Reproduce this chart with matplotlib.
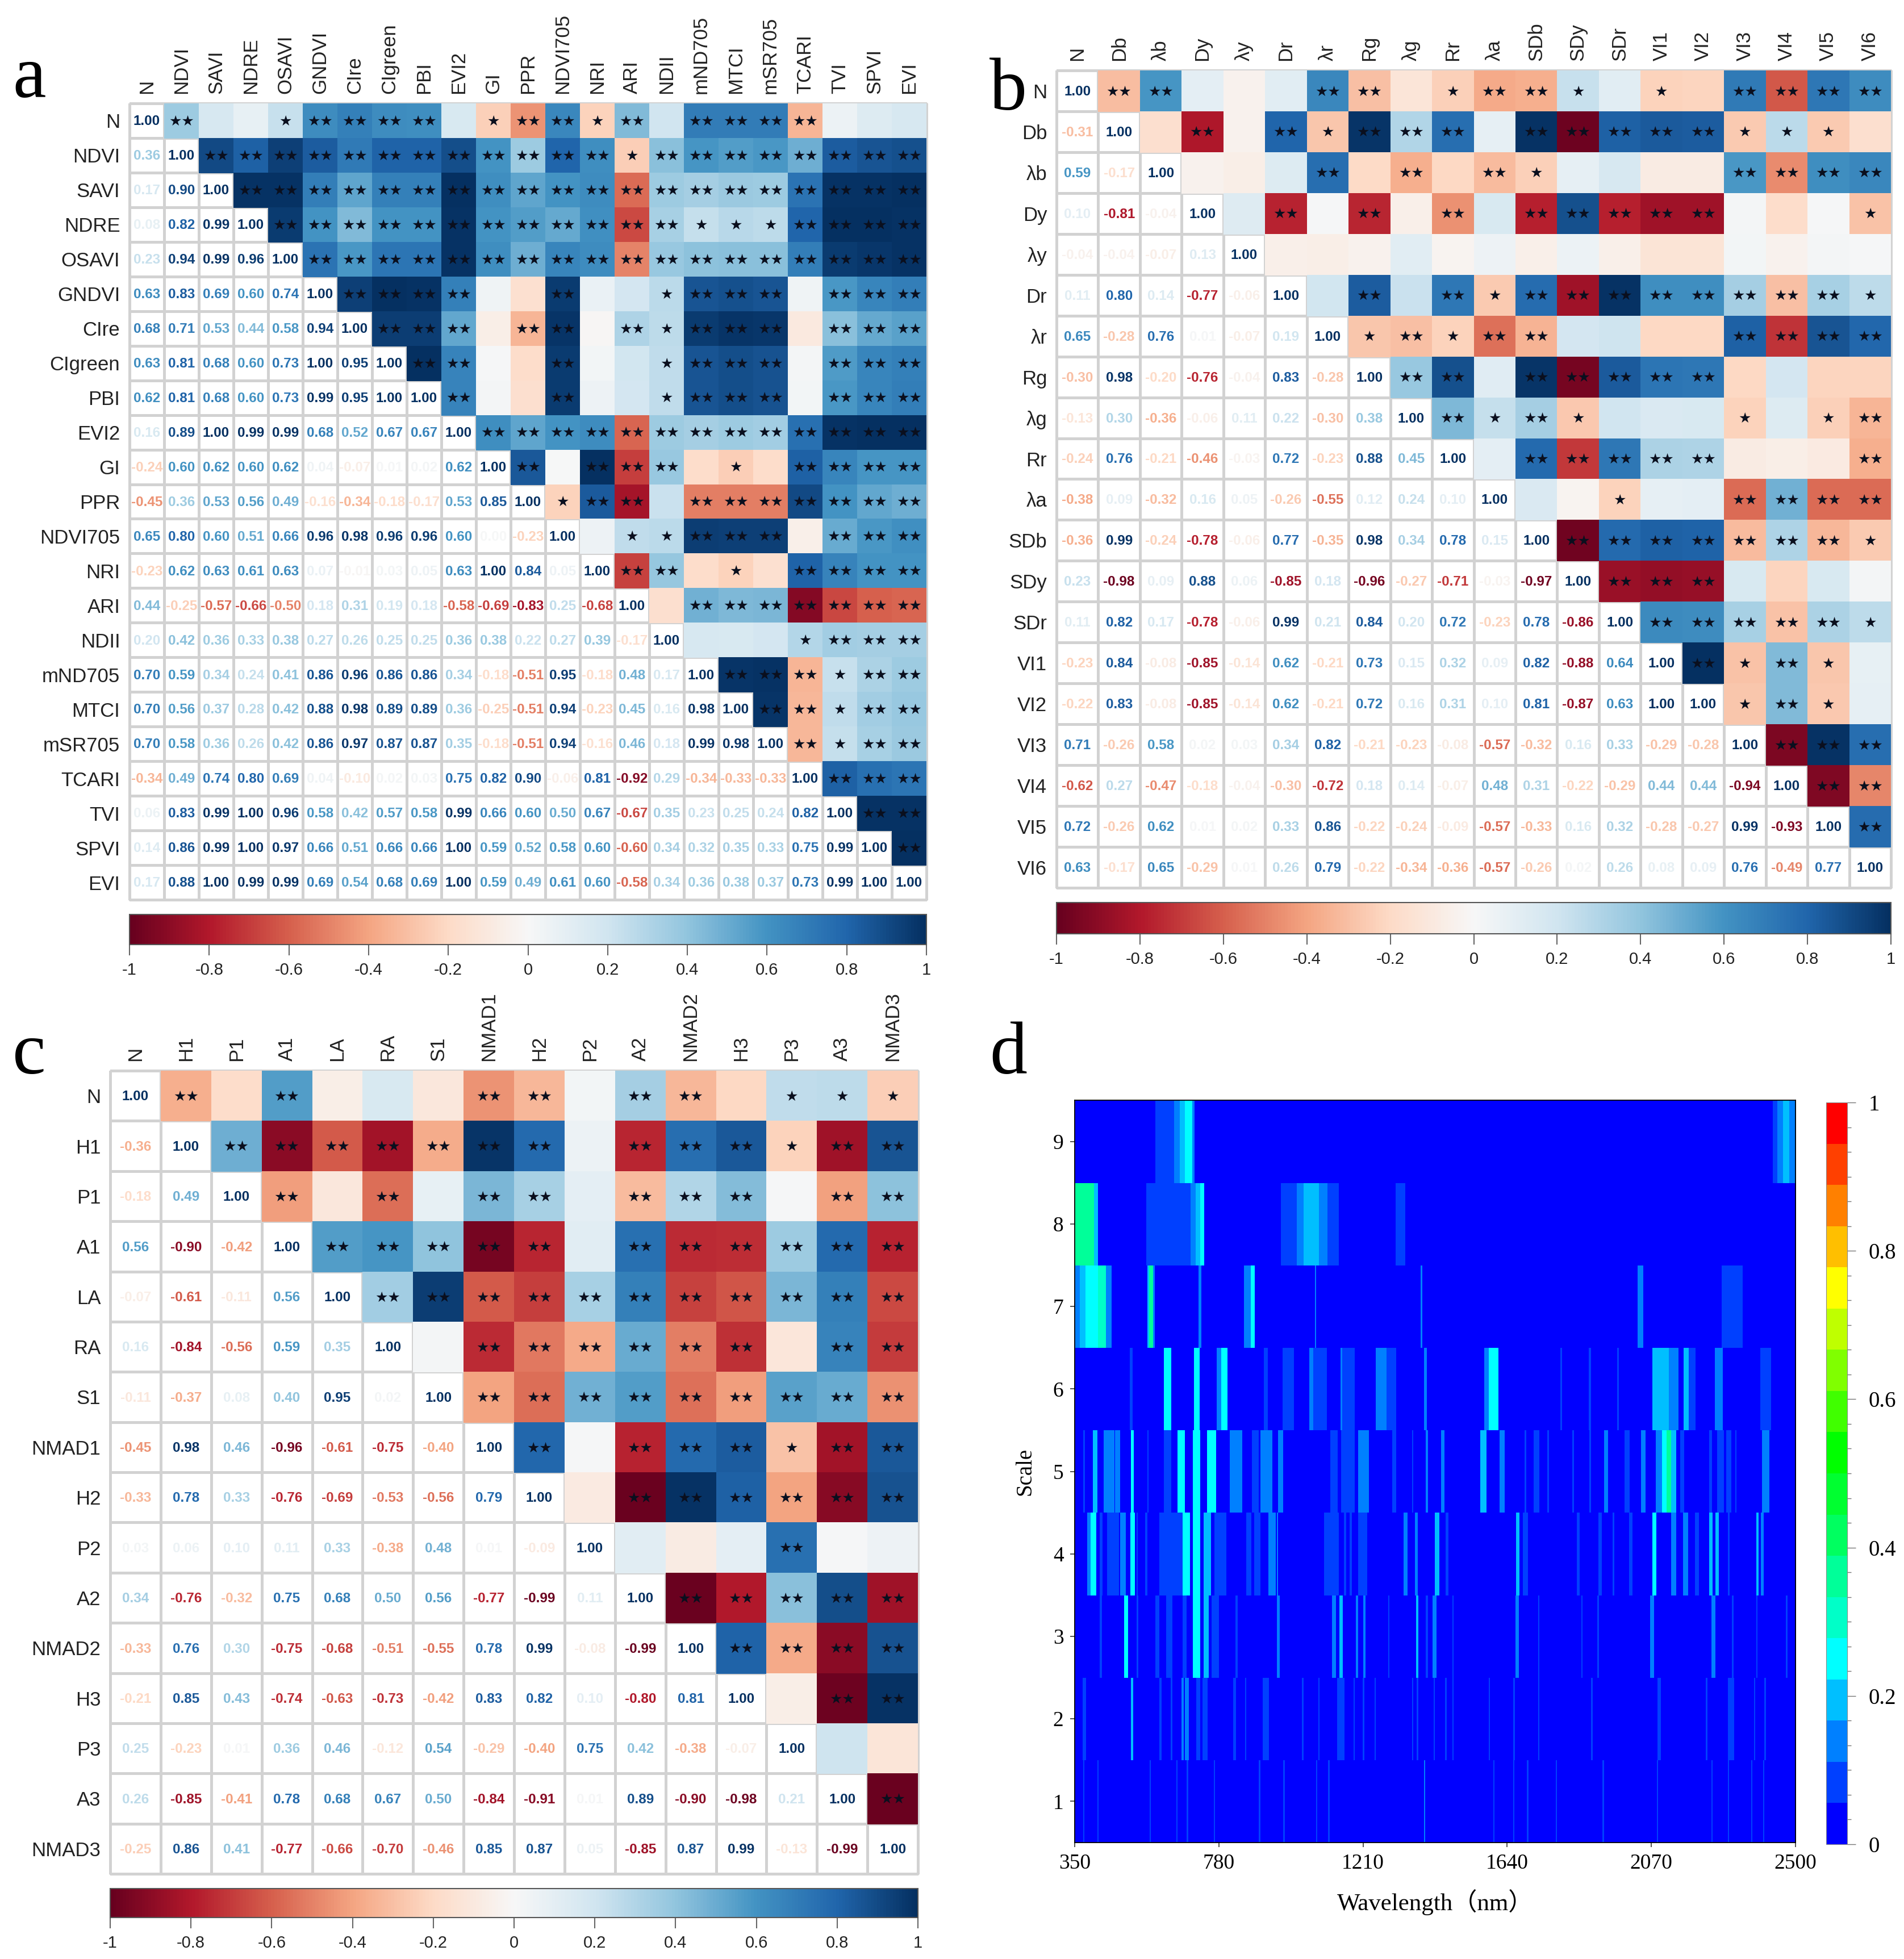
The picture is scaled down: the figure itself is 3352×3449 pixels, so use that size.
# -*- coding: utf-8 -*-
# correlation matrices (a-c) and scale/wavelength importance map (d)

import numpy as np
import matplotlib
matplotlib.use('Agg')
import matplotlib.pyplot as plt
from matplotlib.cm import ScalarMappable
from matplotlib.colors import BoundaryNorm, ListedColormap, Normalize

W, H = 3352, 3449

names_a = ['N', 'NDVI', 'SAVI', 'NDRE', 'OSAVI', 'GNDVI', 'CIre', 'CIgreen', 'PBI', 'EVI2', 'GI', 'PPR',
           'NDVI705', 'NRI', 'ARI', 'NDII', 'mND705', 'MTCI', 'mSR705', 'TCARI', 'TVI', 'SPVI', 'EVI']
lower_a = [
    [],
    [.36],
    [.17, .90],
    [.08, .82, .99],
    [.23, .94, .99, .96],
    [.63, .83, .69, .60, .74],
    [.68, .71, .53, .44, .58, .94],
    [.63, .81, .68, .60, .73, 1.00, .95],
    [.62, .81, .68, .60, .73, .99, .95, 1.00],
    [.16, .89, 1.00, .99, .99, .68, .52, .67, .67],
    [-.24, .60, .62, .60, .62, .04, -.07, .01, .02, .62],
    [-.45, .36, .53, .56, .49, -.16, -.34, -.18, -.17, .53, .85],
    [.65, .80, .60, .51, .66, .96, .98, .96, .96, .60, .00, -.23],
    [-.23, .62, .63, .61, .63, .07, -.01, .03, .05, .63, 1.00, .84, .05],
    [.44, -.25, -.57, -.66, -.50, .18, .31, .19, .18, -.58, -.69, -.83, .25, -.68],
    [.20, .42, .36, .33, .38, .27, .26, .25, .25, .36, .38, .22, .27, .39, -.17],
    [.70, .59, .34, .24, .41, .86, .96, .86, .86, .34, -.18, -.51, .95, -.18, .48, .17],
    [.70, .56, .37, .28, .42, .88, .98, .89, .89, .36, -.25, -.51, .94, -.23, .45, .16, .98],
    [.70, .58, .36, .26, .42, .86, .97, .87, .87, .35, -.18, -.51, .94, -.16, .46, .18, .99, .98],
    [-.34, .49, .74, .80, .69, .04, -.10, .02, .03, .75, .82, .90, -.06, .81, -.92, .29, -.34, -.33, -.33],
    [.06, .83, .99, 1.00, .96, .58, .42, .57, .58, .99, .66, .60, .50, .67, -.67, .35, .23, .25, .24, .82],
    [.14, .86, .99, 1.00, .97, .66, .51, .66, .66, 1.00, .59, .52, .58, .60, -.60, .34, .32, .35, .33, .75, .99],
    [.17, .88, 1.00, .99, .99, .69, .54, .68, .69, 1.00, .59, .49, .61, .60, -.58, .34, .36, .38, .37, .73, .99, 1.00],
]
# number of stars in the upper triangle, row by row
stars_a = ['2001222201221202222000', '222222222222122222222', '22222222222222222222',
           '2222222222221112222', '222222222222222222', '22220020012220222', '2220220212220222',
           '220020012220222', '20020012220222', '2222222222222', '202220102222', '12202222222',
           '0112220222', '220102222', '02222222', '0001222', '222122', '22122', '2122', '222', '22', '2', '']

names_b = ['N', 'Db', 'λb', 'Dy', 'λy', 'Dr', 'λr', 'Rg', 'λg', 'Rr', 'λa', 'SDb', 'SDy', 'SDr',
           'VI1', 'VI2', 'VI3', 'VI4', 'VI5', 'VI6']
lower_b = [
    [],
    [-.31],
    [.59, -.17],
    [.10, -.81, -.04],
    [-.04, -.04, -.07, .13],
    [.11, .80, .14, -.77, -.06],
    [.65, -.28, .76, .01, -.07, .19],
    [-.30, .98, -.20, -.76, -.04, .83, -.28],
    [-.13, .30, -.36, -.06, .11, .22, -.30, .38],
    [-.24, .76, -.21, -.46, -.03, .72, -.23, .88, .45],
    [-.38, .09, -.32, .16, .05, -.26, -.55, .12, .24, .10],
    [-.36, .99, -.24, -.78, -.06, .77, -.35, .98, .34, .78, .15],
    [.23, -.98, .09, .88, .06, -.85, .18, -.96, -.27, -.71, -.03, -.97],
    [.11, .82, .17, -.78, -.06, .99, .21, .84, .20, .72, -.23, .78, -.86],
    [-.23, .84, -.08, -.85, -.14, .62, -.21, .73, .15, .32, .09, .82, -.88, .64],
    [-.22, .83, -.08, -.85, -.14, .62, -.21, .72, .16, .31, .10, .81, -.87, .63, 1.00],
    [.71, -.26, .58, .02, .03, .34, .82, -.21, -.23, -.08, -.57, -.32, .16, .33, -.29, -.28],
    [-.62, .27, -.47, -.18, -.04, -.30, -.72, .18, .14, -.07, .48, .31, -.22, -.29, .44, .44, -.94],
    [.72, -.26, .62, .01, .02, .33, .86, -.22, -.24, -.09, -.57, -.33, .16, .32, -.28, -.27, .99, -.93],
    [.63, -.17, .65, -.29, .01, .26, .79, -.22, -.34, -.36, -.57, -.26, .02, .26, .08, .09, .76, -.49, .77],
]
stars_b = ['2200022012210102222', '020212220222221110', '00020202100002222', '0202020222220001',
           '000000000000000', '02021222222221', '1212200002222', '220222220000', '21210001012',
           '0222220002', '001002222', '22222221', '2220000', '222221', '21210', '1210', '222', '22', '2', '']

names_c = ['N', 'H1', 'P1', 'A1', 'LA', 'RA', 'S1', 'NMAD1', 'H2', 'P2', 'A2', 'NMAD2', 'H3', 'P3', 'A3', 'NMAD3']
lower_c = [
    [],
    [-.36],
    [-.18, .49],
    [.56, -.90, -.42],
    [-.07, -.61, -.11, .56],
    [.16, -.84, -.56, .59, .35],
    [-.11, -.37, .08, .40, .95, .02],
    [-.45, .98, .46, -.96, -.61, -.75, -.40],
    [-.33, .78, .33, -.76, -.69, -.53, -.56, .79],
    [.03, .06, .10, .11, .33, -.38, .48, .01, -.09],
    [.34, -.76, -.32, .75, .68, .50, .56, -.77, -.99, .11],
    [-.33, .76, .30, -.75, -.68, -.51, -.55, .78, .99, -.08, -.99],
    [-.21, .85, .43, -.74, -.63, -.73, -.42, .83, .82, .10, -.80, .81],
    [.25, -.23, .01, .36, .46, -.12, .54, -.29, -.40, .75, .42, -.38, -.07],
    [.26, -.85, -.41, .78, .68, .67, .50, -.84, -.91, .01, .89, -.90, -.98, .21],
    [-.25, .86, .41, -.77, -.66, -.70, -.46, .85, .87, .05, -.85, .87, .99, -.13, -.99],
]
stars_c = ['202000220220111', '22222220222122', '2020220222022', '222220222222', '22222222222',
           '0222222022', '222222222', '20222122', '0222222', '000200', '22222', '2222', '022', '00', '2', '']

cbar_ticks = [-1, -0.8, -0.6, -0.4, -0.2, 0, 0.2, 0.4, 0.6, 0.8, 1]
cbar_labels = ['-1', '-0.8', '-0.6', '-0.4', '-0.2', '0', '0.2', '0.4', '0.6', '0.8', '1']

# panel d: (start nm, end nm, weight) stripes for each scale, background is 0
scale_labels = [1, 2, 3, 4, 5, 6, 7, 8, 9]
wave_ticks = [350, 780, 1210, 1640, 2070, 2500]
stripes_9 = [(591, 647, .08), (647, 664, .14), (664, 678, .19), (678, 700, .25), (700, 707, .14),
             (2431, 2445, .08), (2445, 2462, .14), (2462, 2480, .19), (2480, 2500, .14)]
stripes_8 = [(350, 408, .36), (408, 419, .19), (563, 696, .08), (696, 710, .14), (710, 724, .19), (724, 735, .25),
             (965, 1012, .08), (1012, 1033, .14), (1033, 1078, .19), (1078, 1103, .14), (1103, 1136, .08),
             (1307, 1335, .08)]
stripes_7 = [(350, 366, .14), (366, 383, .19), (383, 420, .25), (420, 443, .31), (443, 459, .14),
             (567, 572, .19), (572, 584, .36), (584, 588, .14), (720, 726, .14), (855, 875, .14), (875, 886, .25),
             (1066, 1069, .14), (1381, 1385, .14), (2029, 2045, .14), (2279, 2340, .08)]
stripes_6 = [(514, 521, .08), (616, 637, .25), (706, 722, .25), (773, 787, .14), (787, 804, .25), (914, 925, .08),
             (970, 1003, .08), (1050, 1062, .14), (1062, 1101, .08), (1142, 1147, .14), (1147, 1184, .08),
             (1248, 1279, .14), (1279, 1307, .08), (1392, 1399, .14), (1571, 1585, .14), (1585, 1612, .25),
             (1798, 1803, .08), (1883, 1888, .08), (1967, 1972, .08), (2073, 2122, .19), (2122, 2150, .14),
             (2166, 2181, .19), (2181, 2201, .08), (2259, 2281, .14), (2394, 2425, .08)]
stripes_5 = [(376, 380, .08), (405, 417, .19), (436, 467, .14), (471, 485, .14), (518, 525, .25), (567, 570, .08),
             (616, 637, .08), (657, 678, .25), (703, 724, .25), (745, 770, .25), (813, 848, .14), (879, 897, .08),
             (904, 939, .14), (956, 970, .14), (1113, 1134, .08), (1144, 1184, .08), (1195, 1226, .14),
             (1296, 1307, .08), (1356, 1359, .08), (1396, 1403, .14), (1442, 1451, .14), (1560, 1577, .19),
             (1617, 1631, .14), (1692, 1695, .08), (1718, 1735, .08), (1760, 1764, .08), (1834, 1838, .08),
             (1885, 1889, .08), (1929, 1940, .14), (1990, 2004, .08), (2039, 2052, .14), (2083, 2101, .14),
             (2101, 2115, .25), (2115, 2129, .36), (2129, 2143, .19), (2155, 2167, .08), (2242, 2249, .08),
             (2265, 2285, .08), (2293, 2307, .08), (2319, 2323, .08), (2399, 2421, .14)]
stripes_4 = [(387, 397, .14), (397, 414, .25), (425, 432, .08), (447, 481, .08), (485, 502, .14), (516, 528, .25),
             (535, 537, .08), (560, 566, .08), (602, 654, .08), (655, 671, .08), (672, 692, .25), (703, 724, .25),
             (734, 756, .19), (766, 801, .08), (862, 876, .08), (886, 903, .08), (928, 949, .14), (953, 956, .14),
             (1094, 1136, .08), (1153, 1159, .08), (1170, 1176, .08), (1195, 1221, .08), (1330, 1342, .14),
             (1364, 1372, .14), (1424, 1437, .19), (1456, 1464, .08), (1666, 1676, .19), (1687, 1701, .08),
             (1848, 1855, .08), (1911, 1921, .08), (1954, 1958, .08), (2003, 2013, .08), (2073, 2083, .25),
             (2129, 2143, .14), (2164, 2178, .14), (2200, 2210, .08), (2242, 2251, .19), (2260, 2270, .19),
             (2298, 2302, .08), (2382, 2389, .19), (2396, 2403, .14)]
stripes_3 = [(425, 431, .08), (497, 509, .25), (535, 539, .08), (591, 601, .08), (622, 640, .08), (672, 682, .08),
             (703, 724, .25), (734, 748, .19), (759, 780, .08), (829, 835, .08), (953, 960, .14), (1118, 1128, .14),
             (1139, 1149, .19), (1188, 1195, .14), (1210, 1216, .14), (1285, 1288, .08), (1368, 1374, .19),
             (1396, 1402, .08), (1417, 1428, .14), (1476, 1479, .08), (1664, 1673, .14), (1732, 1735, .08),
             (1860, 1863, .08), (1909, 1913, .08), (2066, 2076, .14), (2249, 2259, .14), (2310, 2313, .08),
             (2382, 2385, .08), (2471, 2474, .08)]
stripes_2 = [(373, 383, .08), (518, 524, .19), (602, 608, .08), (637, 641, .08), (668, 675, .14), (678, 689, .14),
             (712, 724, .08), (731, 745, .08), (823, 830, .08), (858, 861, .08), (910, 928, .08), (1028, 1031, .08),
             (1076, 1079, .08), (1132, 1153, .08), (1181, 1184, .08), (1209, 1212, .08), (1244, 1247, .08),
             (1356, 1359, .08), (1370, 1373, .08), (1420, 1423, .08), (1455, 1458, .08), (1476, 1479, .08),
             (1584, 1587, .08), (1658, 1661, .08), (1732, 1735, .08), (1890, 1893, .08), (2087, 2097, .08),
             (2232, 2235, .08), (2298, 2316, .08), (2375, 2378, .08), (2407, 2410, .08)]
stripes_1 = [(375, 378, .08), (417, 420, .08), (573, 576, .08), (653, 656, .08), (684, 687, .08), (765, 768, .08),
             (899, 902, .08), (972, 975, .08), (1070, 1073, .08), (1106, 1109, .08), (1391, 1394, .14),
             (1598, 1601, .08), (1657, 1660, .08), (1699, 1702, .08), (1784, 1787, .08), (1924, 1927, .08),
             (2086, 2089, .08), (2248, 2251, .08), (2297, 2300, .08), (2367, 2370, .08), (2402, 2405, .08)]
all_stripes = [stripes_1, stripes_2, stripes_3, stripes_4, stripes_5, stripes_6, stripes_7, stripes_8, stripes_9]
jet_levels = ['#0000ff', '#0040ff', '#0080ff', '#00bfff', '#00ffff', '#00ffc8', '#00ff99', '#00ff60', '#00ff30',
              '#00ff00', '#40ff00', '#80ff00', '#bfff00', '#ffff00', '#ffbf00', '#ff8000', '#ff4000', '#ff0000']

SANS = 'Liberation Sans'
SERIF = 'Liberation Serif'
plt.rcParams['font.family'] = SANS

fig = plt.figure(figsize=(W / 100, H / 100), dpi=100)


def px_axes(left, top, right, bottom):
    return fig.add_axes([left / W, 1 - bottom / H, (right - left) / W, (bottom - top) / H])


def corr_panel(names, lower, stars, box, cbar_box):
    n = len(names)
    corr = np.eye(n)
    for i, row in enumerate(lower):
        for j, v in enumerate(row):
            corr[i, j] = v
            corr[j, i] = v
    upper_mask = np.tril(np.ones((n, n), dtype=bool))
    ax = px_axes(*box)
    edges = np.arange(n + 1)
    norm = Normalize(-1, 1)
    cmap = plt.get_cmap('RdBu')
    # white cells with grey lines first, coloured half goes over them
    ax.pcolormesh(edges, edges, np.zeros((n, n)), cmap=ListedColormap(['white']),
                  edgecolors='#d2d2d2', linewidth=2.2, clip_on=False)
    ax.pcolormesh(edges, edges, np.ma.masked_where(upper_mask, corr), cmap=cmap, norm=norm,
                  edgecolors='face', linewidth=0.6)
    ax.set_xlim(0, n)
    ax.set_ylim(n, 0)
    for i in range(n):
        for j in range(i + 1):
            ax.text(j + 0.5, i + 0.52, '%.2f' % corr[i, j], ha='center', va='center', fontsize=17.5,
                    fontweight='bold', color=cmap(norm(corr[i, j])))
        for k, s in enumerate(stars[i]):
            if s != '0':
                ax.text(i + k + 1.5, i + 0.52, '★' * int(s), ha='center', va='center', fontsize=18,
                        family='DejaVu Sans', color='#0a0f1e')
    ax.xaxis.tick_top()
    ax.set_xticks(edges[:-1] + 0.5)
    ax.set_yticks(edges[:-1] + 0.5)
    ax.set_xticklabels(names, rotation=90, fontsize=25, color='#222222')
    ax.set_yticklabels(names, fontsize=25, color='#222222')
    ax.tick_params(length=0, pad=12)
    for sp in ax.spines.values():
        sp.set_visible(False)

    cax = px_axes(*cbar_box)
    cb = fig.colorbar(ScalarMappable(norm=norm, cmap=cmap), cax=cax, orientation='horizontal')
    cb.set_ticks(cbar_ticks)
    cb.set_ticklabels(cbar_labels)
    cb.outline.set_edgecolor('#555555')
    cb.outline.set_linewidth(1.5)
    cax.tick_params(length=14, width=1.5, labelsize=21, color='#666666', labelcolor='#222222', pad=8)


corr_panel(names_a, lower_a, stars_a, (228, 182, 1631, 1584), (228, 1610, 1631, 1663))
corr_panel(names_b, lower_b, stars_b, (1860, 124, 3329, 1563), (1860, 1589, 3329, 1644))
corr_panel(names_c, lower_c, stars_c, (194, 1885, 1616, 3299), (194, 3325, 1616, 3376))

# panel d
grid = np.zeros((len(scale_labels), 2151))
for row, stripes in zip(grid, all_stripes):
    for start, end, value in stripes:
        row[start - 350:end - 350 + 1] = value

bounds = np.linspace(0, 1, len(jet_levels) + 1)
jet_norm = BoundaryNorm(bounds, len(jet_levels))
jet_cmap = ListedColormap(jet_levels)

ax_d = px_axes(1892, 1937, 3161, 3244)
ax_d.imshow(grid, extent=(350, 2500, 0.5, 9.5), origin='lower', aspect='auto', cmap=jet_cmap, norm=jet_norm,
            interpolation='nearest')
ax_d.set_xticks(wave_ticks)
ax_d.set_yticks(scale_labels)
for lab in ax_d.get_xticklabels() + ax_d.get_yticklabels():
    lab.set_family(SERIF)
ax_d.tick_params(labelsize=27, length=6, width=1.2, pad=8, color='#333333')
ax_d.set_xlabel('Wavelength（nm）', family=[SERIF, 'Noto Sans CJK SC'], fontsize=31, labelpad=20)
ax_d.set_ylabel('Scale', family=SERIF, fontsize=28, labelpad=22)
for sp in ax_d.spines.values():
    sp.set_linewidth(1.3)

cax_d = px_axes(3215, 1941, 3252, 3247)
cb_d = fig.colorbar(ScalarMappable(norm=jet_norm, cmap=jet_cmap), cax=cax_d, spacing='proportional')
cb_d.set_ticks([0, 0.2, 0.4, 0.6, 0.8, 1])
cb_d.set_ticklabels(['0', '0.2', '0.4', '0.6', '0.8', '1'])
cax_d.set_yticks(np.arange(0, 31) / 30, minor=True)
cax_d.tick_params(which='major', length=11, width=1, labelsize=28, pad=16, color='#777777')
cax_d.tick_params(which='minor', length=5, width=1, color='#777777')
for lab in cax_d.get_yticklabels():
    lab.set_family(SERIF)
cb_d.outline.set_edgecolor('#888888')

# panel letters
for letter, x, y in [('a', 22, 171), ('b', 1742, 193), ('c', 22, 1890), ('d', 1742, 1890)]:
    fig.text(x / W, 1 - y / H, letter, family=SERIF, fontsize=95, ha='left', va='baseline', color='black')

fig.savefig('out.png', dpi=100, facecolor='white')
